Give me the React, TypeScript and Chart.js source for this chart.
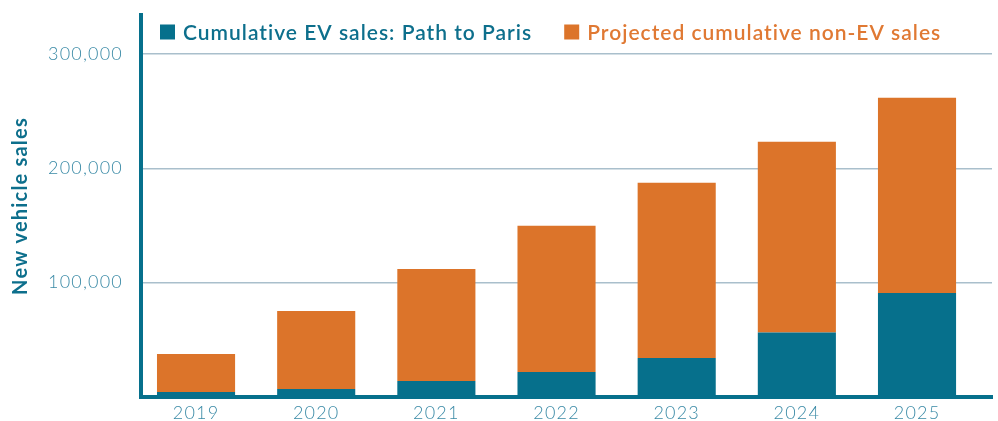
import React, { useEffect, useRef } from "react";
import { Chart, registerables } from "chart.js";

Chart.register(...registerables);

const categories = ["2019", "2020", "2021", "2022", "2023", "2024", "2025"];
const evSales = [4400, 7000, 14000, 21900, 34100, 56300, 91000];
const nonEvSales = [33200, 68300, 98000, 127800, 153200, 166900, 170700];
const yTicks = [100000, 200000, 300000];

const seriesNames = ["Cumulative EV sales: Path to Paris", "Projected cumulative non-EV sales"];
const TEAL = "#06708c";
const ORANGE = "#dc742a";
const TICK_COLOR = "#3a8aa6";
const FONT = "Lato";

const spacingPlugin = {
  id: "letterSpacing",
  beforeDraw(chart: any) {
    chart.ctx.letterSpacing = "1.2px";
  },
  afterDraw(chart: any) {
    chart.ctx.letterSpacing = "0px";
  },
};

const legendPlugin = {
  id: "customLegend",
  afterDraw(chart: any) {
    const ctx = chart.ctx;
    const area = chart.chartArea;
    ctx.save();
    ctx.letterSpacing = "1px";
    ctx.font = `600 21px ${FONT}`;
    ctx.textBaseline = "middle";
    let x = area.left + 19;
    const y = 32;
    chart.data.datasets.forEach((ds: any, i: number) => {
      ctx.fillStyle = ds.backgroundColor;
      ctx.fillRect(x, y - 7.5, 15, 15);
      x += 23;
      ctx.fillStyle = i === 0 ? "#0d6f8c" : "#e07933";
      ctx.fillText(ds.label, x, y + 1);
      x += ctx.measureText(ds.label).width + 32;
    });
    ctx.restore();
  },
};

export default function App() {
  const ref = useRef<HTMLCanvasElement>(null);
  useEffect(() => {
    if (!ref.current) return;
    const chart = new Chart(ref.current, {
      type: "bar",
      data: {
        datasets: [
          {
            label: seriesNames[0],
            data: evSales.map((v, i) => ({ x: i, y: v })),
            backgroundColor: TEAL,
            borderWidth: 0,
          },
          {
            label: seriesNames[1],
            data: nonEvSales.map((v, i) => ({ x: i, y: v })),
            backgroundColor: ORANGE,
            borderWidth: 0,
          },
        ],
      },
      options: {
        animation: false,
        responsive: true,
        maintainAspectRatio: false,
        layout: { padding: { top: 15, right: 6, bottom: 0, left: 0 } },
        datasets: { bar: { barPercentage: 0.65, categoryPercentage: 1 } },
        plugins: { legend: { display: false }, tooltip: { enabled: false } },
        scales: {
          x: {
            type: "linear",
            stacked: true,
            offset: false,
            min: -0.458,
            max: 6.624,
            afterBuildTicks: (scale: any) => {
              scale.ticks = categories.map((_, i) => ({ value: i }));
            },
            afterFit: (scale: any) => {
              scale.height = 24;
              scale.paddingLeft = 0;
              scale.paddingRight = 0;
            },
            grid: { display: false, drawTicks: false },
            border: { display: true, color: TEAL, width: 4 },
            ticks: {
              padding: 5,
              color: TICK_COLOR,
              font: { family: FONT, size: 18, weight: "300" },
              callback: (v: any) => categories[v] ?? "",
              maxRotation: 0,
              autoSkip: false,
            },
          },
          y: {
            stacked: true,
            min: 0,
            max: 334000,
            afterBuildTicks: (scale: any) => {
              scale.ticks = [0, ...yTicks].map((v) => ({ value: v }));
            },
            afterFit: (scale: any) => {
              scale.width = 141;
              scale.paddingTop = 0;
              scale.paddingBottom = 0;
            },
            grid: { color: "#a9bfcc", lineWidth: 1.5, drawTicks: false },
            border: { display: true, color: TEAL, width: 4 },
            ticks: {
              padding: 18,
              color: TICK_COLOR,
              font: { family: FONT, size: 18, weight: "300" },
              callback: (v: any) => (v === 0 ? "" : Number(v).toLocaleString("en-US")),
            },
            title: {
              display: true,
              text: "New vehicle sales",
              color: "#0d6f8c",
              font: { family: FONT, size: 20, weight: "bold" },
              padding: { top: 9, bottom: 0 },
            },
          },
        },
      },
      plugins: [spacingPlugin, legendPlugin],
    });
    return () => chart.destroy();
  }, []);
  return (
    <div style={{ position: "fixed", left: 0, top: 0, width: 998, height: 421 }}>
      <canvas ref={ref} />
    </div>
  );
}
